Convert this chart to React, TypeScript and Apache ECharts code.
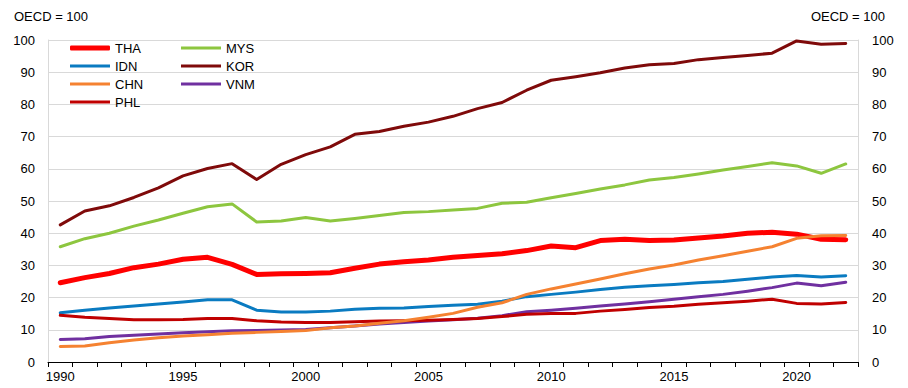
import React, { useEffect, useRef } from "react";
import * as echarts from "echarts";

const years = [
  "1990", "1991", "1992", "1993", "1994", "1995", "1996", "1997", "1998", "1999",
  "2000", "2001", "2002", "2003", "2004", "2005", "2006", "2007", "2008", "2009",
  "2010", "2011", "2012", "2013", "2014", "2015", "2016", "2017", "2018", "2019",
  "2020", "2021", "2022",
];

const THA = [24.6, 26.2, 27.5, 29.3, 30.4, 31.9, 32.5, 30.3, 27.2, 27.4,
  27.5, 27.7, 29.1, 30.4, 31.1, 31.7, 32.5, 33.1, 33.6, 34.6,
  36.0, 35.5, 37.7, 38.1, 37.7, 37.9, 38.5, 39.1, 40.0, 40.3,
  39.7, 38.1, 38.0];
const MYS = [35.8, 38.3, 40.0, 42.2, 44.1, 46.2, 48.2, 49.1, 43.5, 43.8,
  44.9, 43.8, 44.6, 45.5, 46.4, 46.7, 47.2, 47.7, 49.3, 49.6,
  51.0, 52.3, 53.7, 55.0, 56.5, 57.3, 58.4, 59.6, 60.7, 61.9,
  60.9, 58.6, 61.5];
const KOR = [42.6, 46.9, 48.5, 51.1, 54.1, 57.8, 60.1, 61.6, 56.7, 61.4,
  64.4, 66.8, 70.7, 71.6, 73.2, 74.5, 76.3, 78.7, 80.6, 84.4,
  87.5, 88.6, 89.8, 91.3, 92.3, 92.7, 93.9, 94.6, 95.2, 95.9,
  99.7, 98.7, 98.9];
const IDN = [15.3, 16.1, 16.8, 17.4, 18.0, 18.6, 19.3, 19.3, 16.1, 15.5,
  15.5, 15.8, 16.4, 16.7, 16.8, 17.2, 17.6, 17.9, 18.9, 20.3,
  21.0, 21.7, 22.5, 23.2, 23.7, 24.1, 24.6, 25.0, 25.7, 26.4,
  26.9, 26.4, 26.8];
const CHN = [4.8, 5.0, 6.0, 6.8, 7.5, 8.1, 8.5, 8.9, 9.2, 9.5,
  9.8, 10.6, 11.2, 12.0, 12.8, 13.9, 15.1, 17.0, 18.4, 21.0,
  22.7, 24.2, 25.8, 27.4, 28.9, 30.1, 31.7, 33.0, 34.4, 35.8,
  38.4, 39.2, 39.3];
const PHL = [14.5, 13.9, 13.5, 13.1, 13.1, 13.2, 13.5, 13.5, 12.8, 12.4,
  12.3, 12.3, 12.5, 12.7, 12.8, 13.0, 13.2, 13.5, 14.1, 14.8,
  15.1, 15.1, 15.8, 16.3, 16.9, 17.3, 17.9, 18.4, 18.9, 19.5,
  18.2, 18.0, 18.5];
const VNM = [7.0, 7.2, 7.9, 8.3, 8.7, 9.1, 9.4, 9.7, 9.8, 9.9,
  10.1, 10.6, 11.2, 11.8, 12.3, 12.7, 13.1, 13.6, 14.4, 15.6,
  16.1, 16.7, 17.4, 18.0, 18.7, 19.5, 20.3, 21.0, 22.0, 23.1,
  24.5, 23.7, 24.8];

const unitLabel = "OECD = 100";
const legendCol1 = ["THA", "IDN", "CHN", "PHL"];
const legendCol2 = ["MYS", "KOR", "VNM"];

const FONT = "Liberation Sans, Arial, sans-serif";

const seriesDefs = [
  { name: "MYS", data: MYS, color: "#8DC63F", width: 3 },
  { name: "KOR", data: KOR, color: "#7F0A0A", width: 3 },
  { name: "IDN", data: IDN, color: "#0A7BC1", width: 3 },
  { name: "VNM", data: VNM, color: "#7030A0", width: 3 },
  { name: "PHL", data: PHL, color: "#C00000", width: 3 },
  { name: "THA", data: THA, color: "#FF0000", width: 5 },
  { name: "CHN", data: CHN, color: "#F58231", width: 3 },
];

export default function App() {
  const ref = useRef<HTMLDivElement>(null);
  useEffect(() => {
    if (!ref.current) return;
    const chart = echarts.init(ref.current, null, { renderer: "svg" });
    const widthOf = (n: string) => seriesDefs.find((s) => s.name === n)!.width;
    const rowTops = [41, 59, 77, 95];
    const makeLegend = (name: string, left: number, row: number) => ({
      orient: "vertical",
      left,
      top: rowTops[row],
      padding: 0,
      icon: widthOf(name) > 3 ? "roundRect" : "rect",
      itemWidth: 40,
      itemHeight: widthOf(name),
      itemGap: 0,
      textStyle: { fontSize: 13, color: "#000", fontFamily: FONT, lineHeight: 14 },
      data: [name],
    });
    const yAxisBase = {
      type: "value",
      min: 0,
      max: 100,
      interval: 10,
      axisLine: { show: true, lineStyle: { color: "#D9D9D9", width: 1 } },
      axisTick: { show: false },
      splitLine: { show: true, lineStyle: { color: "#D9D9D9", width: 1 } },
    };
    chart.setOption({
      animation: false,
      backgroundColor: "#fff",
      grid: { left: 48, right: 50, top: 40, bottom: 26, containLabel: false },
      graphic: [
        {
          type: "text",
          left: 14,
          top: 10,
          style: { text: unitLabel, fontSize: 13, fill: "#000", fontFamily: FONT },
        },
        {
          type: "text",
          right: 23,
          top: 10,
          style: { text: unitLabel, fontSize: 13, fill: "#000", fontFamily: FONT },
        },
      ],
      legend: [
        ...legendCol1.map((n, i) => makeLegend(n, 70, i)),
        ...legendCol2.map((n, i) => makeLegend(n, 181, i)),
      ],
      xAxis: {
        type: "category",
        data: years,
        boundaryGap: true,
        axisLine: { show: true, lineStyle: { color: "#000", width: 1 } },
        axisTick: { show: true, interval: 0, length: 5, lineStyle: { color: "#000" } },
        axisLabel: {
          interval: 4,
          fontSize: 13,
          color: "#000",
          fontFamily: FONT,
          margin: 8,
        },
        splitLine: { show: false },
      },
      yAxis: [
        {
          ...yAxisBase,
          position: "left",
          axisLabel: { fontSize: 13, color: "#000", fontFamily: FONT, margin: 13 },
        },
        {
          ...yAxisBase,
          position: "right",
          axisLabel: { fontSize: 13, color: "#000", fontFamily: FONT, margin: 14 },
        },
      ],
      series: seriesDefs.map((s) => ({
        name: s.name,
        type: "line",
        data: s.data,
        yAxisIndex: 0,
        symbol: "none",
        showSymbol: false,
        color: s.color,
        itemStyle: { color: s.color },
        lineStyle: { color: s.color, width: s.width, cap: "round", join: "round" },
        emphasis: { disabled: true },
      })),
    });
    return () => chart.dispose();
  }, []);
  return (
    <div
      ref={ref}
      style={{ position: "absolute", left: 0, top: 0, width: 908, height: 388 }}
    />
  );
}
